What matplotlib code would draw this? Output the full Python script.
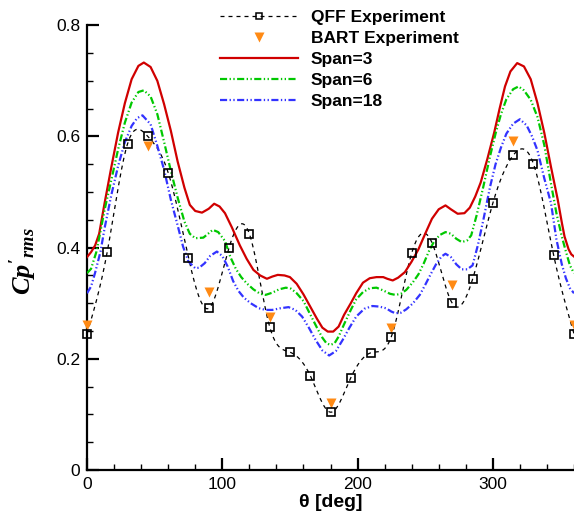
import numpy as np
import matplotlib
matplotlib.use('Agg')
import matplotlib.pyplot as plt
from matplotlib.ticker import MultipleLocator, FuncFormatter

# QFF experiment (squares) and BART experiment (triangles)
qff_theta = [0, 15, 30, 45, 60, 75, 90, 105, 120, 135, 150, 165, 180,
             195, 210, 225, 240, 255, 270, 285, 300, 315, 330, 345, 360]
qff_cp = [0.245, 0.393, 0.587, 0.600, 0.535, 0.382, 0.291, 0.400, 0.425,
          0.258, 0.212, 0.170, 0.104, 0.166, 0.211, 0.240, 0.390, 0.409,
          0.300, 0.343, 0.480, 0.566, 0.551, 0.386, 0.245]

bart_theta = [0, 45, 90, 135, 180, 225, 270, 315, 360]
bart_cp = [0.261, 0.583, 0.321, 0.276, 0.121, 0.256, 0.333, 0.592, 0.261]

# simulations
span3_theta = [0, 3, 6, 9, 13, 18, 23, 28, 33, 38, 42, 47, 52, 57, 62, 67, 72,
               76, 80, 85, 90, 94, 98, 102, 107, 113, 118, 123, 128, 133, 137,
               141, 146, 150, 155, 160, 165, 170, 174, 178, 182, 186, 190, 195,
               199, 204, 209, 214, 219, 222, 226, 230, 235, 240, 245, 250, 255,
               260, 265, 269, 274, 279, 283, 287, 291, 296, 301, 305, 309, 313,
               318, 323, 328, 333, 338, 343, 348, 351, 353, 356, 358, 360]
span3_cp = [0.383, 0.392, 0.404, 0.425, 0.480, 0.545, 0.607, 0.660, 0.703,
            0.727, 0.733, 0.725, 0.700, 0.658, 0.610, 0.555, 0.508, 0.477,
            0.466, 0.463, 0.470, 0.479, 0.474, 0.462, 0.437, 0.404, 0.380,
            0.360, 0.350, 0.344, 0.348, 0.351, 0.350, 0.347, 0.335, 0.316,
            0.294, 0.272, 0.256, 0.249, 0.249, 0.258, 0.279, 0.300, 0.318,
            0.337, 0.345, 0.347, 0.347, 0.344, 0.341, 0.346, 0.356, 0.375,
            0.397, 0.425, 0.452, 0.469, 0.476, 0.469, 0.461, 0.462, 0.472,
            0.492, 0.517, 0.560, 0.607, 0.650, 0.690, 0.717, 0.732, 0.726,
            0.703, 0.660, 0.607, 0.545, 0.486, 0.445, 0.420, 0.397, 0.388,
            0.384]

span6_theta = [0, 3, 7, 10, 13, 18, 23, 28, 33, 38, 42, 47, 52, 57, 62, 67, 72,
               76, 80, 86, 90, 93, 97, 102, 106, 110, 114, 118, 123, 128, 132,
               137, 142, 147, 151, 155, 160, 165, 170, 174, 177, 180, 183, 186,
               190, 195, 199, 204, 209, 214, 219, 224, 228, 232, 236, 241, 245,
               249, 253, 257, 261, 265, 269, 273, 277, 281, 284, 288, 293, 298,
               302, 306, 310, 315, 319, 323, 328, 333, 338, 343, 347, 351, 354,
               357, 360]
span6_cp = [0.354, 0.362, 0.393, 0.430, 0.468, 0.522, 0.577, 0.625, 0.661,
            0.680, 0.683, 0.672, 0.640, 0.590, 0.538, 0.490, 0.447, 0.425,
            0.417, 0.418, 0.426, 0.432, 0.428, 0.412, 0.383, 0.362, 0.347,
            0.336, 0.325, 0.317, 0.315, 0.319, 0.325, 0.328, 0.326, 0.318,
            0.304, 0.280, 0.256, 0.238, 0.228, 0.225, 0.228, 0.240, 0.262,
            0.288, 0.307, 0.320, 0.327, 0.328, 0.323, 0.317, 0.315, 0.317,
            0.324, 0.338, 0.352, 0.372, 0.395, 0.413, 0.423, 0.428, 0.425,
            0.416, 0.410, 0.413, 0.422, 0.458, 0.510, 0.565, 0.605, 0.640,
            0.667, 0.685, 0.690, 0.683, 0.666, 0.635, 0.585, 0.515, 0.462,
            0.420, 0.393, 0.368, 0.354]

span18_theta = [0, 3, 6, 10, 13, 18, 23, 28, 33, 37, 41, 47, 52, 57, 62, 67,
                71, 75, 80, 83, 87, 91, 96, 100, 104, 108, 112, 116, 121, 127,
                132, 137, 143, 149, 154, 159, 164, 169, 174, 179, 184, 189, 194,
                199, 205, 211, 216, 221, 225, 228, 232, 236, 241, 246, 250, 254,
                258, 262, 265, 269, 273, 277, 281, 285, 289, 293, 298, 302, 306,
                310, 315, 320, 325, 329, 333, 338, 343, 347, 351, 354, 357, 360]
span18_cp = [0.318, 0.330, 0.355, 0.393, 0.435, 0.495, 0.547, 0.590, 0.619,
             0.633, 0.638, 0.622, 0.583, 0.540, 0.486, 0.440, 0.402, 0.375,
             0.363, 0.364, 0.372, 0.385, 0.393, 0.385, 0.366, 0.340, 0.322,
             0.310, 0.300, 0.291, 0.288, 0.288, 0.291, 0.293, 0.288, 0.276,
             0.256, 0.234, 0.215, 0.206, 0.214, 0.234, 0.256, 0.276, 0.290,
             0.295, 0.294, 0.291, 0.285, 0.282, 0.283, 0.289, 0.300, 0.315,
             0.333, 0.352, 0.370, 0.384, 0.389, 0.383, 0.370, 0.361, 0.361,
             0.368, 0.405, 0.450, 0.510, 0.550, 0.580, 0.605, 0.623, 0.631,
             0.620, 0.600, 0.575, 0.525, 0.480, 0.415, 0.370, 0.345, 0.327,
             0.318]


def spline(x, y, num=1500):
    # natural cubic spline, used only to draw the dashed QFF connector
    x = np.asarray(x, float)
    y = np.asarray(y, float)
    n = len(x)
    h = np.diff(x)
    A = np.zeros((n, n))
    b = np.zeros(n)
    A[0, 0] = A[-1, -1] = 1.0
    for i in range(1, n - 1):
        A[i, i - 1] = h[i - 1]
        A[i, i] = 2 * (h[i - 1] + h[i])
        A[i, i + 1] = h[i]
        b[i] = 6 * ((y[i + 1] - y[i]) / h[i] - (y[i] - y[i - 1]) / h[i - 1])
    M = np.linalg.solve(A, b)
    t = np.linspace(x[0], x[-1], num)
    k = np.clip(np.searchsorted(x, t) - 1, 0, n - 2)
    hk = h[k]
    a = x[k + 1] - t
    c = t - x[k]
    s = (M[k] * a ** 3 + M[k + 1] * c ** 3) / (6 * hk) \
        + (y[k] / hk - M[k] * hk / 6) * a + (y[k + 1] / hk - M[k + 1] * hk / 6) * c
    return t, s


plt.rcParams['font.family'] = ['Liberation Sans', 'DejaVu Sans']
plt.rcParams['mathtext.fontset'] = 'custom'
plt.rcParams['mathtext.it'] = 'Liberation Serif:italic:bold'
plt.rcParams['mathtext.rm'] = 'Liberation Serif:bold'

fig = plt.figure(figsize=(5.74, 5.17), dpi=100)
ax = fig.add_axes([87 / 574, 47 / 517, 487 / 574, 444.7 / 517])

red = '#d00000'
green = '#00c800'
blue = '#3333ff'
orange = '#ff8a14'
dd = (3.2, 1.1, 0.6, 1.1, 0.6, 1.1)

ts, ss = spline(qff_theta, qff_cp)
ax.plot(ts, ss, color='k', lw=0.9, dashes=(3.2, 3.2), zorder=3)
ax.plot(qff_theta, qff_cp, ls='none', marker='s', ms=5.5, mfc='none',
        mec='k', mew=1.2, zorder=6, clip_on=False)
ax.plot(bart_theta, bart_cp, ls='none', marker='v', ms=7, color=orange,
        mec='none', zorder=5, clip_on=False)
ax.plot(span3_theta, span3_cp, color=red, lw=1.6, zorder=4)
ax.plot(span6_theta, span6_cp, color=green, lw=1.6, dashes=dd, zorder=4)
ax.plot(span18_theta, span18_cp, color=blue, lw=1.6, dashes=dd, zorder=4)

# legend handles
h_qff, = ax.plot([], [], color='k', lw=0.9, dashes=(3.2, 3.2), marker='s',
                 ms=5, mfc='none', mec='k', mew=1.1)
h_bart, = ax.plot([], [], ls='none', marker='v', ms=7, color=orange, mec='none')
h3, = ax.plot([], [], color=red, lw=1.6)
h6, = ax.plot([], [], color=green, lw=1.6, dashes=dd)
h18, = ax.plot([], [], color=blue, lw=1.6, dashes=dd)
leg = ax.legend([h_qff, h_bart, h3, h6, h18],
                ['QFF Experiment', 'BART Experiment', 'Span=3', 'Span=6', 'Span=18'],
                loc='upper left', bbox_to_anchor=(220 / 574, 1 - 10 / 517),
                bbox_transform=fig.transFigure, frameon=False, numpoints=1,
                handlelength=4.5, handletextpad=0.72, labelspacing=0.33,
                borderpad=0, borderaxespad=0,
                prop={'size': 12.5, 'weight': 'bold'})

ax.set_xlim(0, 360)
ax.set_ylim(0, 0.8)
ax.xaxis.set_major_locator(MultipleLocator(100))
ax.xaxis.set_minor_locator(MultipleLocator(20))
ax.yaxis.set_major_locator(MultipleLocator(0.2))
ax.yaxis.set_minor_locator(MultipleLocator(0.05))
fmt = FuncFormatter(lambda v, p: '%g' % round(v, 3))
ax.xaxis.set_major_formatter(fmt)
ax.yaxis.set_major_formatter(fmt)
ax.tick_params(which='major', direction='in', length=8.5, width=1.6,
               labelsize=12.5, pad=5)
ax.tick_params(which='minor', direction='in', length=4.5, width=1.0)
ax.tick_params(top=False, right=False, which='both')
for s in ['top', 'right']:
    ax.spines[s].set_visible(False)
for s in ['left', 'bottom']:
    ax.spines[s].set_linewidth(1.6)

ax.set_xlabel('θ [deg]', fontsize=14, fontweight='bold')
ax.xaxis.set_label_coords(0.5, -0.055)
ax.set_ylabel(r"$Cp'_{rms}$", fontsize=19)
ax.yaxis.set_label_coords(-0.099, 0.47)

fig.savefig('out.png', dpi=100)
